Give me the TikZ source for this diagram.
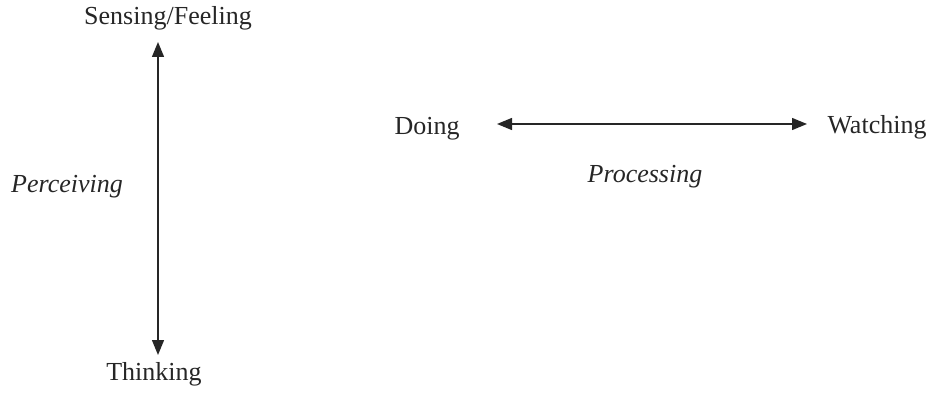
\documentclass[tikz,border=0pt]{standalone}
\usepackage{fontspec}
\setmainfont{Liberation Serif}
\usetikzlibrary{arrows.meta,calc}
\definecolor{ink}{HTML}{262626}
\begin{document}
\begin{tikzpicture}[x=1pt,y=-1pt,
  lbl/.style={inner sep=0pt,anchor=base,text=ink,font=\fontsize{26}{30}\selectfont},
  ilbl/.style={lbl,font=\fontsize{26}{30}\selectfont\itshape},
  arr/.style={draw=ink,line width=1.3pt,{Triangle[length=15pt,width=12pt]}-{Triangle[length=15pt,width=12pt]}}]
\useasboundingbox (0,0) rectangle (934,398);
\node[lbl]  (sf)   at (168,25)  {Sensing/Feeling};
\node[lbl]  (th)   at (154,380) {Thinking};
\node[ilbl] (perc) at (67,193)  {Perceiving};
\node[lbl]  (doing) at (427,135) {Doing};
\node[lbl]  (watch) at (877,134) {Watching};
\node[ilbl] (proc) at (645,183) {Processing};
\draw[arr] ($(sf.base)+(-10,17)$) -- ($(th.base)+(4,-25)$);
\draw[arr] ($(doing.base)+(70,-11)$) -- ($(watch.base)+(-70,-10)$);
\end{tikzpicture}
\end{document}
